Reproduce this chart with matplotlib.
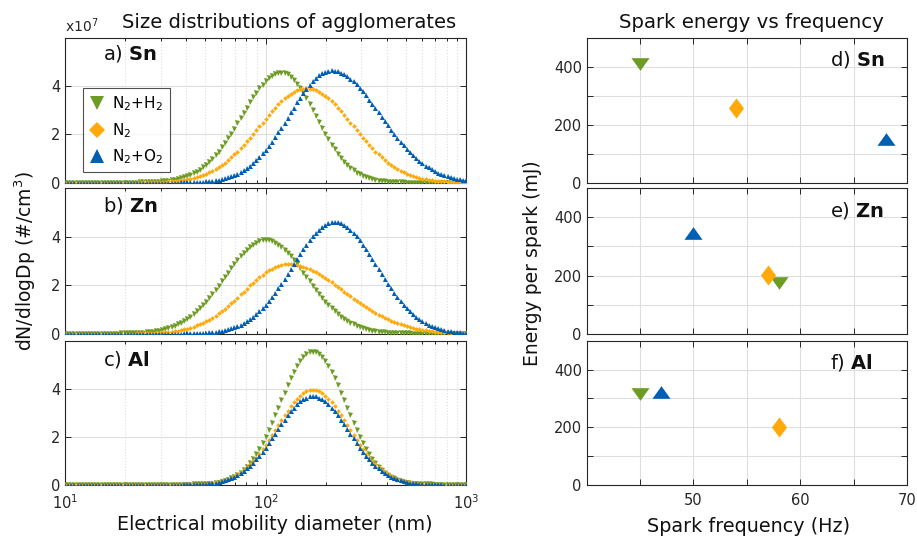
import numpy as np
import matplotlib
matplotlib.use("Agg")
import matplotlib.pyplot as plt
from matplotlib.lines import Line2D
from matplotlib.ticker import LogLocator, NullFormatter

plt.rcParams['font.family'] = ['DejaVu Sans']
plt.rcParams['mathtext.fontset'] = 'dejavusans'

# SMPS channels: 64 per decade, 10 nm .. 1000 nm
diam_nm = np.logspace(1, 3, 129)

# dN/dlogDp in units of 1e7 #/cm3
sn_n2h2 = [0]*24 + [
    0.01, 0.01, 0.01, 0.02, 0.02, 0.03, 0.04, 0.05, 0.06, 0.08, 0.10, 0.12, 0.15, 0.18, 0.22,
    0.27, 0.32, 0.39, 0.46, 0.54, 0.64, 0.74, 0.86, 0.99, 1.13, 1.29, 1.46, 1.64, 1.83, 2.03,
    2.24, 2.45, 2.67, 2.89, 3.11, 3.32, 3.53, 3.72, 3.90, 4.06, 4.21, 4.33, 4.42, 4.49, 4.54,
    4.55,
    4.53, 4.48, 4.38, 4.26, 4.10, 3.92, 3.72, 3.49, 3.26, 3.01, 2.76, 2.51, 2.27, 2.02, 1.80,
    1.58, 1.38, 1.19, 1.02, 0.87, 0.74, 0.62, 0.51, 0.42, 0.34, 0.28, 0.22, 0.18, 0.14, 0.11,
    0.09, 0.07, 0.05, 0.04, 0.03, 0.02, 0.02, 0.01, 0.01] + [0]*20
sn_n2 = [0]*24 + [
    0.01, 0.01, 0.01, 0.01, 0.02, 0.02, 0.03, 0.03, 0.04, 0.05, 0.06, 0.07, 0.08, 0.10, 0.12,
    0.14, 0.17, 0.20, 0.24, 0.28, 0.32, 0.38, 0.43, 0.50, 0.57, 0.65, 0.74, 0.83, 0.94, 1.05,
    1.17, 1.29, 1.42, 1.57, 1.71, 1.86, 2.02, 2.17, 2.33, 2.49, 2.65, 2.81, 2.96, 3.10, 3.24,
    3.37, 3.49, 3.59, 3.68, 3.76, 3.82, 3.86, 3.89,
    3.90,
    3.89, 3.86, 3.82, 3.76, 3.68, 3.59, 3.49, 3.37, 3.24, 3.10, 2.96, 2.81, 2.65, 2.49, 2.33,
    2.17, 2.02, 1.86, 1.71, 1.57, 1.42, 1.29, 1.17, 1.05, 0.94, 0.83, 0.74, 0.65, 0.57, 0.50,
    0.43, 0.38, 0.32, 0.28, 0.24, 0.20, 0.17, 0.14, 0.12, 0.10, 0.08, 0.07, 0.06, 0.05, 0.04,
    0.03, 0.03, 0.02, 0.02, 0.01, 0.01]
sn_n2o2 = [0]*37 + [
    0.01, 0.01, 0.01, 0.02, 0.02, 0.03, 0.03, 0.04, 0.05, 0.07, 0.08, 0.10, 0.13, 0.15, 0.19,
    0.22, 0.27, 0.32, 0.38, 0.45, 0.52, 0.61, 0.71, 0.82, 0.93, 1.07, 1.21, 1.36, 1.53, 1.70,
    1.89, 2.08, 2.28, 2.49, 2.69, 2.91, 3.11, 3.32, 3.52, 3.71, 3.89, 4.06, 4.21, 4.34, 4.45,
    4.53, 4.60, 4.64,
    4.65,
    4.64, 4.61, 4.56, 4.50, 4.41, 4.31, 4.20, 4.07, 3.93, 3.78, 3.61, 3.44, 3.27, 3.09, 2.91,
    2.73, 2.55, 2.37, 2.19, 2.02, 1.86, 1.70, 1.55, 1.40, 1.27, 1.14, 1.02, 0.91, 0.81, 0.71,
    0.63, 0.55, 0.48, 0.42, 0.36, 0.31, 0.27, 0.23, 0.20, 0.17, 0.14, 0.12, 0.10]

zn_n2h2 = [0]*18 + [
    0.01, 0.01, 0.01, 0.02, 0.02, 0.03, 0.03, 0.04, 0.05, 0.07, 0.08, 0.10, 0.13, 0.15, 0.19,
    0.22, 0.27, 0.32, 0.38, 0.45, 0.52, 0.61, 0.70, 0.81, 0.92, 1.05, 1.18, 1.32, 1.48, 1.64,
    1.81, 1.98, 2.16, 2.34, 2.52, 2.70, 2.87, 3.04, 3.19, 3.34, 3.47, 3.59, 3.68, 3.76, 3.81,
    3.85,
    3.86,
    3.85, 3.81, 3.76, 3.68, 3.59, 3.47, 3.34, 3.19, 3.04, 2.87, 2.70, 2.52, 2.34, 2.16, 1.98,
    1.81, 1.64, 1.48, 1.32, 1.18, 1.05, 0.92, 0.81, 0.70, 0.61, 0.52, 0.45, 0.38, 0.32, 0.27,
    0.22, 0.19, 0.15, 0.13, 0.10, 0.08, 0.07, 0.05, 0.04, 0.03, 0.03, 0.02, 0.02, 0.01, 0.01,
    0.01] + [0]*18
zn_n2 = [0]*23 + [
    0.01, 0.01, 0.01, 0.02, 0.02, 0.03, 0.03, 0.04, 0.05, 0.06, 0.07, 0.09, 0.11, 0.13, 0.15,
    0.18, 0.21, 0.25, 0.29, 0.34, 0.39, 0.45, 0.51, 0.58, 0.66, 0.74, 0.84, 0.93, 1.03, 1.14,
    1.26, 1.37, 1.49, 1.62, 1.74, 1.86, 1.99, 2.11, 2.22, 2.33, 2.44, 2.53, 2.62, 2.69, 2.76,
    2.80, 2.84, 2.86,
    2.87,
    2.87, 2.85, 2.83, 2.80, 2.76, 2.71, 2.66, 2.60, 2.53, 2.46, 2.38, 2.30, 2.21, 2.12, 2.03,
    1.93, 1.84, 1.74, 1.64, 1.55, 1.45, 1.36, 1.27, 1.18, 1.09, 1.01, 0.93, 0.86, 0.78, 0.72,
    0.65, 0.59, 0.53, 0.48, 0.43, 0.39, 0.35, 0.31, 0.27, 0.24, 0.21, 0.19, 0.17, 0.14, 0.13,
    0.11, 0.09, 0.08, 0.07, 0.06, 0.05, 0.04, 0.04, 0.03, 0.03, 0.02, 0.02]
zn_n2o2 = [0]*38 + [
    0.01, 0.01, 0.01, 0.02, 0.02, 0.03, 0.03, 0.04, 0.05, 0.07, 0.08, 0.10, 0.12, 0.15, 0.18,
    0.22, 0.27, 0.32, 0.37, 0.44, 0.52, 0.60, 0.70, 0.81, 0.92, 1.05, 1.20, 1.35, 1.51, 1.68,
    1.87, 2.06, 2.25, 2.46, 2.66, 2.88, 3.08, 3.28, 3.48, 3.67, 3.85, 4.02, 4.16, 4.29, 4.40,
    4.49, 4.55, 4.59,
    4.60,
    4.59, 4.55, 4.49, 4.40, 4.29, 4.16, 4.02, 3.85, 3.67, 3.48, 3.28, 3.08, 2.88, 2.66, 2.46,
    2.25, 2.06, 1.87, 1.68, 1.51, 1.35, 1.20, 1.05, 0.92, 0.81, 0.70, 0.60, 0.52, 0.44, 0.37,
    0.32, 0.27, 0.22, 0.18, 0.15, 0.12, 0.10, 0.08, 0.07, 0.05, 0.04, 0.03]

al_n2h2 = [0]*41 + [
    0.01, 0.01, 0.02, 0.02, 0.03, 0.04, 0.05, 0.07, 0.09, 0.12, 0.16, 0.20, 0.26, 0.33, 0.41,
    0.50, 0.62, 0.75, 0.90, 1.08, 1.28, 1.49, 1.73, 2.00, 2.28, 2.58, 2.89, 3.20, 3.52, 3.84,
    4.15, 4.44, 4.71, 4.95, 5.15, 5.32, 5.44, 5.52,
    5.54,
    5.52, 5.44, 5.32, 5.15, 4.95, 4.71, 4.44, 4.15, 3.84, 3.52, 3.20, 2.89, 2.58, 2.28, 2.00,
    1.73, 1.49, 1.28, 1.08, 0.90, 0.75, 0.62, 0.50, 0.41, 0.33, 0.26, 0.20, 0.16, 0.12, 0.09,
    0.07, 0.05, 0.04, 0.03, 0.02, 0.02, 0.01, 0.01] + [0]*11
al_n2 = [0]*38 + [
    0.01, 0.01, 0.01, 0.02, 0.02, 0.03, 0.04, 0.05, 0.06, 0.08, 0.10, 0.12, 0.16, 0.19, 0.24,
    0.29, 0.36, 0.43, 0.51, 0.61, 0.72, 0.85, 0.98, 1.13, 1.30, 1.47, 1.66, 1.86, 2.06, 2.27,
    2.48, 2.69, 2.89, 3.09, 3.27, 3.44, 3.59, 3.71, 3.82, 3.89, 3.93,
    3.95,
    3.93, 3.89, 3.82, 3.71, 3.59, 3.44, 3.27, 3.09, 2.89, 2.69, 2.48, 2.27, 2.06, 1.86, 1.66,
    1.47, 1.30, 1.13, 0.98, 0.85, 0.72, 0.61, 0.51, 0.43, 0.36, 0.29, 0.24, 0.19, 0.16, 0.12,
    0.10, 0.08, 0.06, 0.05, 0.04, 0.03, 0.02, 0.02, 0.01, 0.01, 0.01] + [0]*8
al_n2o2 = [0]*38 + [
    0.01, 0.01, 0.01, 0.01, 0.02, 0.03, 0.03, 0.04, 0.06, 0.07, 0.09, 0.12, 0.15, 0.18, 0.22,
    0.27, 0.33, 0.40, 0.48, 0.57, 0.68, 0.79, 0.92, 1.06, 1.21, 1.38, 1.55, 1.73, 1.93, 2.12,
    2.32, 2.51, 2.70, 2.89, 3.06, 3.21, 3.35, 3.47, 3.56, 3.63, 3.68,
    3.69,
    3.68, 3.63, 3.56, 3.47, 3.35, 3.21, 3.06, 2.89, 2.70, 2.51, 2.32, 2.12, 1.93, 1.73, 1.55,
    1.38, 1.21, 1.06, 0.92, 0.79, 0.68, 0.57, 0.48, 0.40, 0.33, 0.27, 0.22, 0.18, 0.15, 0.12,
    0.09, 0.07, 0.06, 0.04, 0.03, 0.03, 0.02, 0.01, 0.01, 0.01, 0.01] + [0]*8

# Spark frequency (Hz) and energy per spark (mJ): order N2+H2, N2, N2+O2
freq_sn = [45, 54, 68]
energy_sn = [410, 257, 152]
freq_zn = [58, 57, 50]
energy_zn = [175, 202, 345]
freq_al = [45, 58, 47]
energy_al = [315, 200, 322]

gas_labels = ['N$_2$+H$_2$', 'N$_2$', 'N$_2$+O$_2$']
metals = ['Sn', 'Zn', 'Al']
left_letters = ['a)', 'b)', 'c)']
right_letters = ['d)', 'e)', 'f)']

GREEN = '#6C9C23'
ORANGE = '#FFAA0A'
BLUE = '#005FB5'
colors = [GREEN, ORANGE, BLUE]
mk_curve = ['v', 'D', '^']
ms_curve = [3.6, 2.4, 3.6]
# marker shapes for the scatter panels (flattened triangles, tall diamond)
TRI_DOWN = [(-1, 0.7), (1, 0.7), (0, -0.7), (-1, 0.7)]
TRI_UP = [(-1, -0.7), (1, -0.7), (0, 0.7), (-1, -0.7)]
DIAMOND = [(0, 1), (0.75, 0), (0, -1), (-0.75, 0), (0, 1)]
mk_pt = [TRI_DOWN, DIAMOND, TRI_UP]
ms_pt = [13, 14.5, 13]
AXC = '#262626'
GRIDC = '#dedede'

W, H = 917, 537
fig = plt.figure(figsize=(W / 100, H / 100), dpi=100)

def rect(x0, x1, ytop, ybot):
    return [x0 / W, 1 - ybot / H, (x1 - x0) / W, (ybot - ytop) / H]

rows = [(37.7, 182.7), (188.3, 333.7), (340.7, 484.7)]
curves = [[sn_n2h2, sn_n2, sn_n2o2], [zn_n2h2, zn_n2, zn_n2o2], [al_n2h2, al_n2, al_n2o2]]
points = [(freq_sn, energy_sn), (freq_zn, energy_zn), (freq_al, energy_al)]

def style(ax):
    for s in ax.spines.values():
        s.set_color(AXC)
        s.set_linewidth(0.8)
    ax.tick_params(which='both', direction='in', top=True, right=True,
                   colors=AXC, labelsize=10.5, width=0.7)
    ax.tick_params(which='major', length=4)
    ax.tick_params(which='minor', length=2.5)
    ax.tick_params(axis='x', which='both', pad=6)
    ax.set_axisbelow(True)

for r, (yt, yb) in enumerate(rows):
    ax = fig.add_axes(rect(65, 466.4, yt, yb))
    ax.set_xscale('log')
    for c in range(3):
        ax.plot(diam_nm, curves[r][c], linestyle='none', marker=mk_curve[c],
                ms=ms_curve[c], mew=0, color=colors[c], zorder=3)
    ax.set_xlim(10, 1000)
    ax.set_ylim(0, 6)
    ax.set_yticks([0, 2, 4])
    ax.xaxis.set_minor_locator(LogLocator(base=10, subs=np.arange(2, 10)))
    ax.xaxis.set_minor_formatter(NullFormatter())
    ax.grid(True, which='major', color=GRIDC, lw=0.8)
    ax.grid(True, which='minor', axis='x', color=GRIDC, lw=0.8, ls=':')
    style(ax)
    if r < 2:
        ax.tick_params(labelbottom=False)
    ax.text(0.095, 0.89 - 0.01 * r, left_letters[r] + ' $\\mathbf{' + metals[r] + '}$',
            transform=ax.transAxes, fontsize=14, va='center', ha='left', color='#111111')
    if r == 0:
        handles = [Line2D([], [], linestyle='none', marker=mk_curve[c], color=colors[c],
                          mew=0, ms=[10, 8, 10][c]) for c in range(3)]
        leg = ax.legend(handles, gas_labels, loc='upper left', bbox_to_anchor=(0.045, 0.65),
                        fontsize=11, frameon=True, fancybox=False, edgecolor=AXC,
                        handlelength=1.0, handletextpad=0.5, borderpad=0.4,
                        labelspacing=0.5, borderaxespad=0)
        leg.get_frame().set_linewidth(0.8)
        ax.text(0.0, 1.02, 'x10$^7$', transform=ax.transAxes, fontsize=10,
                ha='left', va='bottom', color=AXC)

for r, (yt, yb) in enumerate(rows):
    ax = fig.add_axes(rect(586.7, 907, yt, yb))
    f, e = points[r]
    for c in range(3):
        ax.plot([f[c]], [e[c]], linestyle='none', marker=mk_pt[c], ms=ms_pt[c], mew=0,
                color=colors[c], zorder=3)
    ax.set_xlim(40, 70)
    ax.set_ylim(0, 500)
    ax.set_xticks([45, 50, 55, 60, 65, 70])
    ax.set_xticklabels(['', '50', '', '60', '', '70'])
    ax.set_yticks([0, 100, 200, 300, 400, 500])
    ax.set_yticklabels(['0', '', '200', '', '400', ''])
    ax.grid(True, color=GRIDC, lw=0.8)
    style(ax)
    if r < 2:
        ax.tick_params(labelbottom=False)
    ax.text(0.76, 0.85, right_letters[r] + ' $\\mathbf{' + metals[r] + '}$',
            transform=ax.transAxes, fontsize=14, va='center', ha='left', color='#111111')

fig.text(289 / W, 1 - 22 / H, 'Size distributions of agglomerates', fontsize=14,
         ha='center', va='center', color='#111111')
fig.text(751 / W, 1 - 22 / H, 'Spark energy vs frequency', fontsize=14.2,
         ha='center', va='center', color='#111111')
fig.text(25 / W, 1 - 261 / H, 'dN/dlogDp (#/cm$^3$)', fontsize=13.5, rotation=90,
         ha='center', va='center', color='#111111')
fig.text(532 / W, 1 - 263 / H, 'Energy per spark (mJ)', fontsize=13.5, rotation=90,
         ha='center', va='center', color='#111111')
fig.text(275 / W, 1 - 524 / H, 'Electrical mobility diameter (nm)', fontsize=13.8,
         ha='center', va='center', color='#111111')
fig.text(749 / W, 1 - 526 / H, 'Spark frequency (Hz)', fontsize=13.8,
         ha='center', va='center', color='#111111')

fig.savefig('out.png', dpi=100)
